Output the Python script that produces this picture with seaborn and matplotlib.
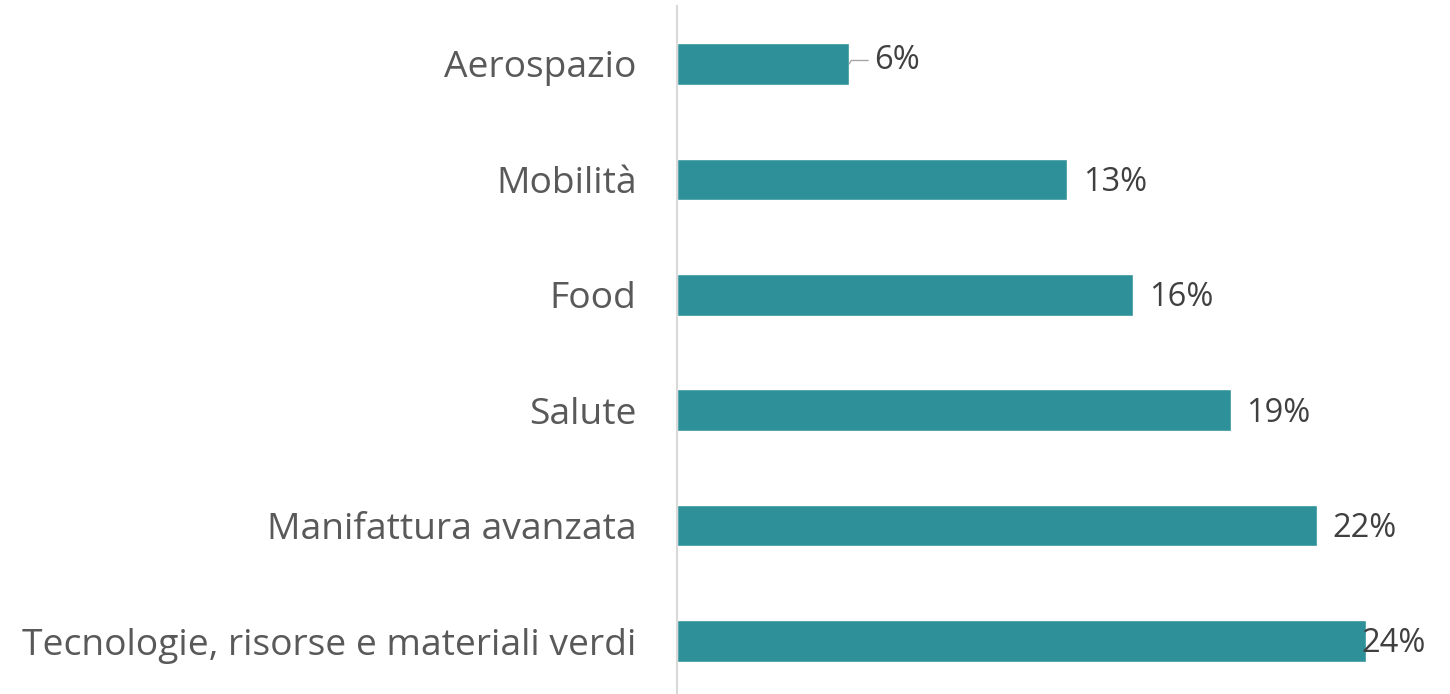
import matplotlib
matplotlib.use("Agg")
import matplotlib.pyplot as plt
import seaborn as sns
import pandas as pd

categories = ["Aerospazio", "Mobilità", "Food", "Salute",
              "Manifattura avanzata", "Tecnologie, risorse e materiali verdi"]
values = [6.0, 13.6, 15.9, 19.3, 22.3, 24.0]
value_labels = ["6%", "13%", "16%", "19%", "22%", "24%"]

sns.set_theme(style="white")
plt.rcParams["font.family"] = ["Open Sans", "DejaVu Sans"]

df = pd.DataFrame({"cat": categories, "val": values})

fig = plt.figure(figsize=(14.5, 6.94), dpi=100)
ax = fig.add_axes([677 / 1450, -0.007, (1450 - 677) / 1450, 0.998])

sns.barplot(data=df, x="val", y="cat", orient="h", color="#2E9199",
            saturation=1, width=0.36, ax=ax)

ax.set_xlim(0, 773 / 28.7)
ax.set_ylim(5.5, -0.5)
ax.set_xlabel("")
ax.set_ylabel("")
ax.set_xticks([])
for s in ["top", "right", "bottom"]:
    ax.spines[s].set_visible(False)
ax.spines["left"].set_color("#D9D9D9")
ax.spines["left"].set_linewidth(1.5)
ax.tick_params(axis="y", length=0, pad=29, labelsize=26.8, labelcolor="#595959")

for i, (v, lab) in enumerate(zip(values, value_labels)):
    if i == 0:
        ax.annotate(lab, xy=(v, i), xytext=(18, 2.5), textcoords="offset points",
                    ha="left", va="center", fontsize=23.5, color="#404040",
                    arrowprops=dict(arrowstyle="-", color="#A6A6A6", lw=1,
                                    connectionstyle="angle,angleA=0,angleB=60,rad=0",
                                    shrinkA=2, shrinkB=0))
    else:
        ax.annotate(lab, xy=(v, i), xytext=(11 if i < 5 else -3, -2),
                    textcoords="offset points", ha="left", va="center",
                    fontsize=23.5, color="#404040")

fig.savefig("out.png", dpi=100)
